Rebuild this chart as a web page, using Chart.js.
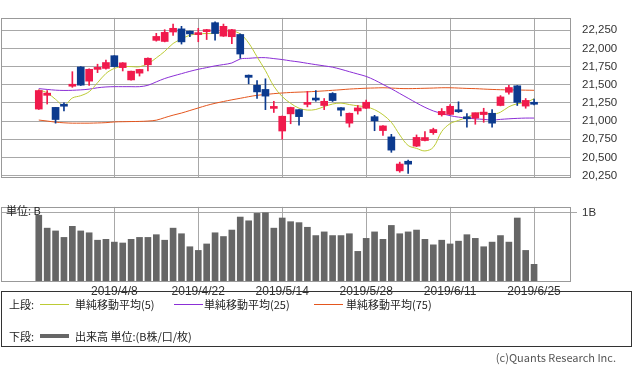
<!DOCTYPE html>
<html lang="ja">
<head>
<meta charset="utf-8">
<script src="https://cdn.jsdelivr.net/npm/chart.js@4.4.1/dist/chart.umd.min.js"></script>
<style>
  html, body { margin: 0; padding: 0; background: #fff; }
  #wrap { position: relative; width: 633px; height: 369px; overflow: hidden;
          font-family: "Noto Sans CJK JP", "Noto Sans", sans-serif; color: #222; }
  canvas { position: absolute; left: 0; }
  #priceChart { top: 0; }
  #volChart { top: 195px; }
  .txt { position: absolute; font-size: 11px; line-height: 14px; white-space: nowrap; }
  .swatch { position: absolute; width: 29px; }
  #legend { position: absolute; left: 1px; top: 291px; width: 629px; height: 54px; border: 1px solid #333; }
</style>
</head>
<body>
<div id="wrap">
  <canvas id="priceChart" width="633" height="195"></canvas>
  <canvas id="volChart" width="633" height="100"></canvas>
  <div class="txt" style="left:6px; top:203px;">単位: B</div>

  <div id="legend"></div>
  <div class="txt" style="left:9px; top:297px;">上段:</div>
  <div class="swatch" id="sw5" style="left:40px; top:304px; height:1px;"></div>
  <div class="txt" style="left:75px; top:297px;">単純移動平均(5)</div>
  <div class="swatch" id="sw25" style="left:174px; top:304px; height:1px;"></div>
  <div class="txt" style="left:204px; top:297px;">単純移動平均(25)</div>
  <div class="swatch" id="sw75" style="left:314px; top:304px; height:1px;"></div>
  <div class="txt" style="left:346px; top:297px;">単純移動平均(75)</div>

  <div class="txt" style="left:9px; top:329px;">下段:</div>
  <div class="swatch" id="swVol" style="left:40px; top:334px; height:4px;"></div>
  <div class="txt" style="left:75px; top:329px;">出来高 単位:(B株/口/枚)</div>

  <div class="txt" style="right:17px; top:350px; color:#555;">(c)Quants Research Inc.</div>
</div>

<script>
// データ
const dates = [
  "2019/3/26", "2019/3/27", "2019/3/28", "2019/3/29",
  "2019/4/1", "2019/4/2", "2019/4/3", "2019/4/4", "2019/4/5",
  "2019/4/8", "2019/4/9", "2019/4/10", "2019/4/11", "2019/4/12",
  "2019/4/15", "2019/4/16", "2019/4/17", "2019/4/18", "2019/4/19",
  "2019/4/22", "2019/4/23", "2019/4/24", "2019/4/25", "2019/4/26",
  "2019/5/7", "2019/5/8", "2019/5/9", "2019/5/10", "2019/5/13",
  "2019/5/14", "2019/5/15", "2019/5/16", "2019/5/17", "2019/5/20",
  "2019/5/21", "2019/5/22", "2019/5/23", "2019/5/24", "2019/5/27",
  "2019/5/28", "2019/5/29", "2019/5/30", "2019/5/31", "2019/6/3",
  "2019/6/4", "2019/6/5", "2019/6/6", "2019/6/7", "2019/6/10",
  "2019/6/11", "2019/6/12", "2019/6/13", "2019/6/14", "2019/6/17",
  "2019/6/18", "2019/6/19", "2019/6/20", "2019/6/21", "2019/6/24",
  "2019/6/25"
];

const opens = [
  21166, 21355, 21189, 21215, 21480, 21745, 21550, 21712, 21725, 21900,
  21736, 21567, 21660, 21775, 22111, 22096, 22226, 22269, 22238, 22190,
  22231, 22354, 22169, 22161, 22192, 21632, 21493, 21436, 21175, 20864,
  21100, 21158, 21230, 21304, 21215, 21381, 21185, 20972, 21140, 21177,
  21061, 20870, 20783, 20316, 20448, 20656, 20733, 20841, 21088, 21092,
  21140, 21042, 21042, 21090, 21108, 21215, 21397, 21486, 21207, 21240
];
const highs = [
  21430, 21420, 21190, 21250, 21680, 21750, 21720, 21783, 21840, 21900,
  21805, 21690, 21713, 21870, 22208, 22258, 22335, 22304, 22240, 22277,
  22262, 22366, 22335, 22262, 22200, 21635, 21559, 21582, 21273, 21070,
  21192, 21160, 21409, 21420, 21311, 21392, 21188, 21112, 21215, 21289,
  21080, 20940, 20818, 20436, 20463, 20810, 20857, 20903, 21173, 21227,
  21266, 21103, 21112, 21177, 21158, 21351, 21494, 21490, 21311, 21304
];
const lows = [
  21160, 21235, 20972, 21140, 21465, 21490, 21490, 21667, 21713, 21745,
  21690, 21565, 21620, 21690, 22100, 22090, 22180, 22060, 22162, 22092,
  22122, 22115, 22165, 22065, 21864, 21513, 21312, 21158, 21119, 20752,
  20964, 20945, 21196, 21273, 21158, 21270, 21073, 20918, 21096, 21172,
  20868, 20803, 20571, 20297, 20281, 20650, 20728, 20818, 21069, 21088,
  21119, 20918, 20957, 20984, 20918, 21210, 21370, 21215, 21177, 21222
];
const closes = [
  21421, 21385, 21022, 21205, 21505, 21495, 21713, 21725, 21806, 21750,
  21802, 21687, 21711, 21865, 22165, 22221, 22277, 22090, 22200, 22213,
  22259, 22205, 22304, 22258, 21923, 21602, 21402, 21344, 21191, 21067,
  21188, 21062, 21250, 21290, 21273, 21283, 21151, 21108, 21182, 21260,
  21003, 20934, 20601, 20410, 20408, 20776, 20774, 20884, 21134, 21204,
  21129, 21032, 21116, 21124, 20972, 21333, 21462, 21258, 21285, 21232
];

const ma5 = [
  21430, 21389, 21299, 21216, 21318, 21350, 21405, 21528, 21655, 21725,
  21750, 21750, 21748, 21790, 21870, 21960, 22068, 22130, 22182, 22200,
  22205, 22206, 22232, 22240, 22200, 22075, 21885, 21695, 21480, 21338,
  21245, 21178, 21152, 21160, 21200, 21235, 21248, 21228, 21210, 21196,
  21158, 21088, 20984, 20810, 20665, 20625, 20590, 20640, 20857, 20966,
  21010, 21053, 21100, 21119, 21094, 21123, 21198, 21239, 21256, 21308
];
const ma25 = [
  21447, 21436, 21426, 21422, 21424, 21430, 21440, 21459, 21470, 21474,
  21474, 21474, 21474, 21493, 21540, 21586, 21621, 21653, 21685, 21713,
  21736, 21760, 21778, 21800, 21855, 21864, 21872, 21873, 21860, 21847,
  21829, 21814, 21795, 21777, 21760, 21742, 21713, 21680, 21648, 21615,
  21565, 21505, 21445, 21380, 21315, 21250, 21190, 21140, 21105, 21075,
  21055, 21042, 21032, 21024, 21015, 21024, 21032, 21038, 21042, 21042
];
const ma75 = [
  21015, 21001, 20986, 20977, 20972, 20972, 20972, 20975, 20979, 20989,
  20992, 20994, 20996, 21001, 21013, 21048, 21082, 21111, 21146, 21181,
  21216, 21245, 21270, 21293, 21314, 21336, 21355, 21366, 21378, 21387,
  21394, 21399, 21403, 21409, 21416, 21424, 21432, 21441, 21447, 21453,
  21456, 21459, 21455, 21449, 21447, 21449, 21452, 21455, 21459, 21459,
  21455, 21450, 21447, 21441, 21436, 21432, 21430, 21428, 21426, 21424
];

// 出来高 (B)
const volumes = [
  0.966, 0.776, 0.735, 0.640, 0.803, 0.735, 0.708, 0.599, 0.612, 0.571,
  0.558, 0.612, 0.640, 0.640, 0.680, 0.599, 0.776, 0.694, 0.503, 0.449,
  0.544, 0.708, 0.653, 0.748, 0.939, 0.884, 0.993, 1.002, 0.776, 0.925,
  0.871, 0.857, 0.789, 0.667, 0.721, 0.667, 0.667, 0.694, 0.435, 0.626,
  0.721, 0.612, 0.816, 0.694, 0.721, 0.748, 0.612, 0.531, 0.599, 0.544,
  0.585, 0.680, 0.626, 0.503, 0.571, 0.667, 0.571, 0.925, 0.449, 0.245
];

const priceTicks = [20250, 20500, 20750, 21000, 21250, 21500, 21750, 22000, 22250];
const volumeTicks = [1];
const tickDates = ["2019/4/8", "2019/4/22", "2019/5/14", "2019/5/28", "2019/6/11", "2019/6/25"];

// 色
const RED = "#f01a4c";
const BLUE = "#0c3a8e";
const C_MA5 = "#bccb35";
const C_MA25 = "#8b2fd6";
const C_MA75 = "#e4561e";
const C_VOL = "#666666";
const GRID = "#a8a8a8";
const FONT = "'Liberation Sans', Arial, sans-serif";

document.getElementById("sw5").style.background = C_MA5;
document.getElementById("sw25").style.background = C_MA25;
document.getElementById("sw75").style.background = C_MA75;
document.getElementById("swVol").style.background = C_VOL;

const candleColors = opens.map((o, i) => closes[i] >= o ? RED : BLUE);
const xMin = -4.5, xMax = 63.4;

// 枠線
const frame = {
    id: "frame",
    afterDraw(chart) {
        const a = chart.chartArea, ctx = chart.ctx;
        ctx.save();
        ctx.strokeStyle = "#999";
        ctx.lineWidth = 1;
        ctx.strokeRect(Math.round(a.left) + 0.5, Math.round(a.top) + 0.5,
            Math.round(a.right - a.left) - 1, Math.round(a.bottom - a.top));
        ctx.restore();
    }
};

function xScale(showLabels) {
    return {
        type: "linear", min: xMin, max: xMax, offset: false,
        grid: { color: GRID, offset: false, drawTicks: false },
        border: { display: false },
        ticks: {
            display: showLabels, autoSkip: false, maxRotation: 0, padding: 3,
            color: "#333", font: { family: FONT, size: 12 },
            callback: v => dates[v]
        },
        afterBuildTicks: ax => { ax.ticks = tickDates.map(d => ({ value: dates.indexOf(d) })); },
        afterFit: ax => { ax.height = showLabels ? 14 : 0; }
    };
}

const maLine = (label, values, color) => ({
    type: "line", label, order: 2,
    data: values.map((v, i) => ({ x: i, y: v })),
    borderColor: color, borderWidth: 1, pointRadius: 0, tension: 0.35
});

// ===========================
// 上段: ローソク足 + 移動平均
// ===========================
new Chart(document.getElementById("priceChart"), {
    type: "bar",
    data: {
        datasets: [
            {
                label: "body", order: 0, grouped: false,
                data: opens.map((o, i) => ({ x: i, y: [o, closes[i]] })),
                backgroundColor: candleColors, barThickness: 7, minBarLength: 2
            },
            {
                label: "wick", order: 1, grouped: false,
                data: lows.map((l, i) => ({ x: i, y: [l, highs[i]] })),
                backgroundColor: candleColors, barThickness: 1
            },
            maLine("単純移動平均(5)", ma5, C_MA5),
            maLine("単純移動平均(25)", ma25, C_MA25),
            maLine("単純移動平均(75)", ma75, C_MA75)
        ]
    },
    options: {
        responsive: false, animation: false,
        layout: { padding: { left: 1, top: 1, right: 0, bottom: 5 } },
        plugins: { legend: { display: false }, tooltip: { enabled: false } },
        scales: {
            x: xScale(false),
            y: {
                position: "right", min: 20230, max: 22420,
                grid: { color: GRID, drawTicks: false },
                border: { display: false },
                ticks: {
                    autoSkip: false, padding: 11, color: "#333",
                    font: { family: FONT, size: 11.5 },
                    callback: v => v.toLocaleString("en-US")
                },
                afterBuildTicks: ax => { ax.ticks = priceTicks.map(v => ({ value: v })); },
                afterFit: ax => { ax.width = 62; }
            }
        }
    },
    plugins: [frame]
});

// ===========================
// 下段: 出来高
// ===========================
new Chart(document.getElementById("volChart"), {
    type: "bar",
    data: {
        datasets: [{
            label: "出来高",
            data: volumes.map((v, i) => ({ x: i, y: v })),
            backgroundColor: C_VOL, barThickness: 6
        }]
    },
    options: {
        responsive: false, animation: false,
        layout: { padding: { left: 1, top: 6, right: 0, bottom: 0 } },
        plugins: { legend: { display: false }, tooltip: { enabled: false } },
        scales: {
            x: xScale(true),
            y: {
                position: "right", min: 0, max: 1.088,
                grid: { color: GRID, drawTicks: true, tickLength: 6 },
                border: { display: false },
                ticks: {
                    autoSkip: false, padding: 5, color: "#333",
                    font: { family: FONT, size: 11.5 },
                    callback: v => v + "B"
                },
                afterBuildTicks: ax => { ax.ticks = volumeTicks.map(v => ({ value: v })); },
                afterFit: ax => { ax.width = 62; }
            }
        }
    },
    plugins: [frame]
});
</script>
</body>
</html>
